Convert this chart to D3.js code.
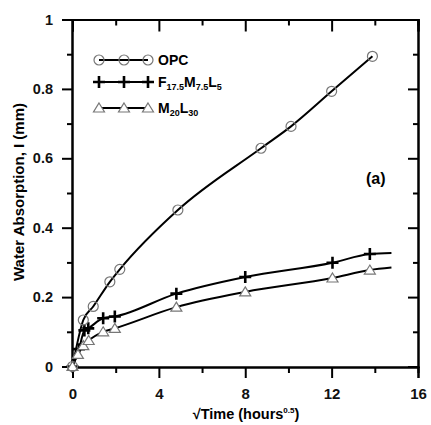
<!DOCTYPE html>
<html>
<head>
<meta charset="utf-8">
<script src="https://cdn.jsdelivr.net/npm/d3@7"></script>
<style>
  body { margin: 0; background: #fff; }
  text { font-family: Arial, "Liberation Sans", sans-serif; font-weight: bold; }
</style>
</head>
<body>
<div id="chart"></div>
<script>
// Data (x = sqrt of hours, y = mm)
const opcX = [0, 0.5, 0.96, 1.73, 2.19, 4.88, 8.73, 10.12, 12.0, 13.89];
const opcY = [0, 0.134, 0.173, 0.244, 0.28, 0.451, 0.629, 0.692, 0.793, 0.894];

const fmlX = [0, 0.3, 0.55, 0.73, 1.42, 1.96, 4.81, 8.0, 12.04, 13.77];
const fmlY = [0, 0.05, 0.104, 0.11, 0.139, 0.144, 0.21, 0.258, 0.299, 0.324];

const mlX = [0, 0.25, 0.5, 0.75, 1.42, 1.96, 4.81, 8.0, 12.04, 13.77];
const mlY = [0, 0.035, 0.06, 0.075, 0.1, 0.11, 0.171, 0.215, 0.255, 0.278];

// fitted curves run a bit past the last marker
const fmlEnd = [14.77, 0.327];
const mlEnd = [14.77, 0.285];

const xMajor = [0, 4, 8, 12, 16];
const xMinor = [2, 6, 10, 14];
const yMajor = [0, 0.2, 0.4, 0.6, 0.8, 1];
const yMinor = [0.1, 0.3, 0.5, 0.7, 0.9];

const W = 431, H = 425;
const svg = d3.select("#chart").append("svg").attr("width", W).attr("height", H);

const x = d3.scaleLinear().domain([0, 16]).range([72.5, 418]);
const y = d3.scaleLinear().domain([0, 1]).range([366.5, 19.5]);

const zip = (xs, ys) => xs.map((v, i) => [v, ys[i]]);
const opc = zip(opcX, opcY);
const fml = zip(fmlX, fmlY);
const ml = zip(mlX, mlY);

// Axes
const fmtY = d => d === 0 ? "0" : d === 1 ? "1" : d3.format(".1f")(d);

svg.append("g").attr("transform", "translate(0,367)")
  .call(d3.axisBottom(x).tickValues(xMajor).tickSize(11).tickPadding(10).tickFormat(d3.format("d")))
  .call(g => g.selectAll("text").attr("font-size", 15).attr("fill", "#111"));
svg.append("g").attr("transform", "translate(0,367)")
  .call(d3.axisBottom(x).tickValues(xMinor).tickSize(6).tickFormat(""));

svg.append("g").attr("transform", "translate(72,0)")
  .call(d3.axisLeft(y).tickValues(yMajor).tickSize(10).tickPadding(9).tickFormat(fmtY))
  .call(g => g.selectAll("text").attr("font-size", 14.5).attr("fill", "#111"));
svg.append("g").attr("transform", "translate(72,0)")
  .call(d3.axisLeft(y).tickValues(yMinor).tickSize(5).tickFormat(""));

svg.append("g").attr("transform", "translate(0,19.5)")
  .call(d3.axisTop(x).tickValues(xMajor).tickSize(-12).tickFormat(""));
svg.append("g").attr("transform", "translate(0,19.5)")
  .call(d3.axisTop(x).tickValues(xMinor).tickSize(-6).tickFormat(""));

svg.append("g").attr("transform", "translate(418,0)")
  .call(d3.axisRight(y).tickValues(yMajor).tickSize(-10).tickFormat(""));
svg.append("g").attr("transform", "translate(418,0)")
  .call(d3.axisRight(y).tickValues(yMinor).tickSize(-5).tickFormat(""));

svg.selectAll(".domain").attr("stroke", "#000").attr("stroke-width", 2);
svg.selectAll(".tick line").attr("stroke", "#000").attr("stroke-width", 2);

// Lines
const line = d3.line().x(d => x(d[0])).y(d => y(d[1])).curve(d3.curveMonotoneX);
const lines = [opc, fml.concat([fmlEnd]), ml.concat([mlEnd])];
svg.selectAll("path.series").data(lines).join("path")
  .attr("class", "series")
  .attr("d", line)
  .attr("fill", "none")
  .attr("stroke", "#000")
  .attr("stroke-width", 2);

// Markers
function circles(g, pts) {
  g.selectAll("circle").data(pts).join("circle")
    .attr("cx", d => x(d[0])).attr("cy", d => y(d[1])).attr("r", 5)
    .attr("fill", "none").attr("stroke", "#777").attr("stroke-width", 1.2);
}
function crosses(g, pts) {
  g.selectAll("path").data(pts).join("path")
    .attr("d", d => `M${x(d[0]) - 6},${y(d[1])}h12M${x(d[0])},${y(d[1]) - 6}v12`)
    .attr("stroke", "#000").attr("stroke-width", 2.6);
}
function triangles(g, pts) {
  g.selectAll("path").data(pts).join("path")
    .attr("d", d => `M${x(d[0])},${y(d[1]) - 5}l5.5,9h-11z`)
    .attr("fill", "#fff").attr("stroke", "#777").attr("stroke-width", 1.2);
}
svg.append("g").call(crosses, fml);
svg.append("g").call(triangles, ml);
svg.append("g").call(circles, opc);

// Legend
const lx = [99, 124, 148];
const legend = [
  { y: 60, draw: circles },
  { y: 82, draw: crosses },
  { y: 108, draw: triangles }
];
legend.forEach(item => {
  const g = svg.append("g");
  g.append("line").attr("x1", lx[0]).attr("x2", lx[2]).attr("y1", item.y).attr("y2", item.y)
    .attr("stroke", "#000").attr("stroke-width", 2);
  const pts = lx.map(px => [x.invert(px), y.invert(item.y)]);
  g.call(item.draw, pts);
});

svg.append("text").attr("x", 158).attr("y", 65).attr("font-size", 14).text("OPC");
const t2 = svg.append("text").attr("x", 158).attr("y", 87).attr("font-size", 14);
t2.append("tspan").text("F");
t2.append("tspan").attr("font-size", 9).attr("dy", 3).text("17.5");
t2.append("tspan").attr("dy", -3).text("M");
t2.append("tspan").attr("font-size", 9).attr("dy", 3).text("7.5");
t2.append("tspan").attr("dy", -3).text("L");
t2.append("tspan").attr("font-size", 9).attr("dy", 3).text("5");
const t3 = svg.append("text").attr("x", 158).attr("y", 113).attr("font-size", 14);
t3.append("tspan").text("M");
t3.append("tspan").attr("font-size", 9).attr("dy", 3).text("20");
t3.append("tspan").attr("dy", -3).text("L");
t3.append("tspan").attr("font-size", 9).attr("dy", 3).text("30");

// Panel label
svg.append("text").attr("x", 366).attr("y", 184).attr("font-size", 16)
  .attr("font-family", "'Open Sans', sans-serif").text("(a)");

// Axis titles
svg.append("text").attr("transform", "translate(24,192) rotate(-90)")
  .attr("text-anchor", "middle").attr("font-size", 15).text("Water Absorption, I (mm)");

const xt = svg.append("text").attr("x", 246).attr("y", 419).attr("text-anchor", "middle").attr("font-size", 14.5);
xt.append("tspan").text("\u221ATime (hours");
xt.append("tspan").attr("font-size", 8).attr("dy", -6).text("0.5");
xt.append("tspan").attr("dy", 6).text(")");
</script>
</body>
</html>
